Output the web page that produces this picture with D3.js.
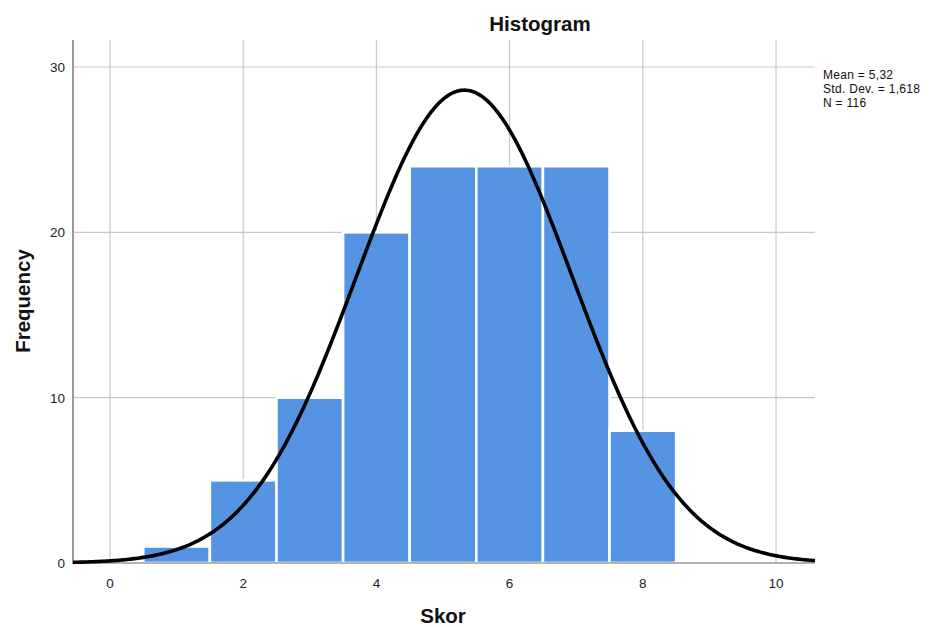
<!DOCTYPE html>
<html>
<head>
<meta charset="utf-8">
<script src="https://cdn.jsdelivr.net/npm/d3@7"></script>
<style>
  html, body { margin: 0; padding: 0; background: #fff; }
  svg { display: block; font-family: Arial, "Liberation Sans", sans-serif; }
</style>
</head>
<body>
<svg id="chart" width="937" height="627"></svg>
<script>
// Score bins (centres) and their counts
const binCenters = [1, 2, 3, 4, 5, 6, 7, 8];
const frequencies = [1, 5, 10, 20, 24, 24, 24, 8];
const binWidth = 1;

// Summary statistics
const mean = 5.32;
const stdDev = 1.618;
const n = 116;
const statsLines = ["Mean = 5,32", "Std. Dev. = 1,618", "N = 116"];

// Axis ticks
const xTicks = [0, 2, 4, 6, 8, 10];
const yTicks = [0, 10, 20, 30];

const svg = d3.select("#chart");
const plot = { left: 73, right: 815, top: 40, bottom: 563 };

const x = d3.scaleLinear().domain([-0.555, 10.585]).range([plot.left, plot.right]);
const y = d3.scaleLinear().domain([0, 30]).range([plot.bottom, 67]);

// Grid lines
svg.append("g").selectAll("line.vg").data(xTicks).join("line")
  .attr("x1", d => x(d)).attr("x2", d => x(d))
  .attr("y1", plot.top).attr("y2", plot.bottom)
  .attr("stroke", "#c8c8c8").attr("stroke-width", 1.2);
svg.append("g").selectAll("line.hg").data(yTicks.filter(d => d > 0)).join("line")
  .attr("x1", plot.left).attr("x2", plot.right)
  .attr("y1", d => y(d)).attr("y2", d => y(d))
  .attr("stroke", "#c8c8c8").attr("stroke-width", 1.2);

// Bars
svg.append("g").selectAll("rect").data(binCenters).join("rect")
  .attr("x", (d) => x(d - binWidth / 2))
  .attr("width", x(binWidth) - x(0))
  .attr("y", (d, i) => y(frequencies[i]))
  .attr("height", (d, i) => y(0) - y(frequencies[i]))
  .attr("fill", "#5594e3")
  .attr("stroke", "#ffffff")
  .attr("stroke-width", 2.6);

// Axis lines
svg.append("line")
  .attr("x1", plot.left).attr("x2", plot.left)
  .attr("y1", plot.top).attr("y2", plot.bottom + 1)
  .attr("stroke", "#9a9a9a").attr("stroke-width", 2);
svg.append("line")
  .attr("x1", plot.left).attr("x2", plot.right)
  .attr("y1", plot.bottom).attr("y2", plot.bottom)
  .attr("stroke", "#9a9a9a").attr("stroke-width", 1.5);

// Normal curve scaled to counts
const pdf = v => Math.exp(-0.5 * ((v - mean) / stdDev) ** 2) / (stdDev * Math.sqrt(2 * Math.PI));
const [x0, x1] = x.domain();
const curvePts = d3.range(0, 401).map(i => x0 + (x1 - x0) * i / 400);
svg.append("path")
  .datum(curvePts)
  .attr("d", d3.line().x(v => x(v)).y(v => y(n * binWidth * pdf(v))))
  .attr("fill", "none")
  .attr("stroke", "#000")
  .attr("stroke-width", 3.6);

// Tick labels
svg.append("g").selectAll("text").data(xTicks).join("text")
  .attr("x", d => x(d)).attr("y", 588)
  .attr("text-anchor", "middle")
  .attr("font-size", 13.5).attr("fill", "#222")
  .text(d => d);
svg.append("g").selectAll("text").data(yTicks).join("text")
  .attr("x", 65).attr("y", d => y(d) + 5)
  .attr("text-anchor", "end")
  .attr("font-size", 13.5).attr("fill", "#222")
  .text(d => d);

// Titles
svg.append("text")
  .attr("x", 540).attr("y", 31)
  .attr("text-anchor", "middle")
  .attr("font-size", 20.5).attr("font-weight", "bold").attr("fill", "#111")
  .text("Histogram");
svg.append("text")
  .attr("x", 443).attr("y", 623)
  .attr("text-anchor", "middle")
  .attr("font-size", 20.5).attr("font-weight", "bold").attr("fill", "#111")
  .text("Skor");
svg.append("text")
  .attr("transform", "translate(30,301) rotate(-90)")
  .attr("text-anchor", "middle")
  .attr("font-size", 20.5).attr("font-weight", "bold").attr("fill", "#111")
  .text("Frequency");

// Summary statistics box
svg.append("g").selectAll("text").data(statsLines).join("text")
  .attr("x", 823).attr("y", (d, i) => 79 + i * 14)
  .attr("font-size", 12).attr("letter-spacing", 0.3).attr("fill", "#111")
  .text(d => d);
</script>
</body>
</html>
